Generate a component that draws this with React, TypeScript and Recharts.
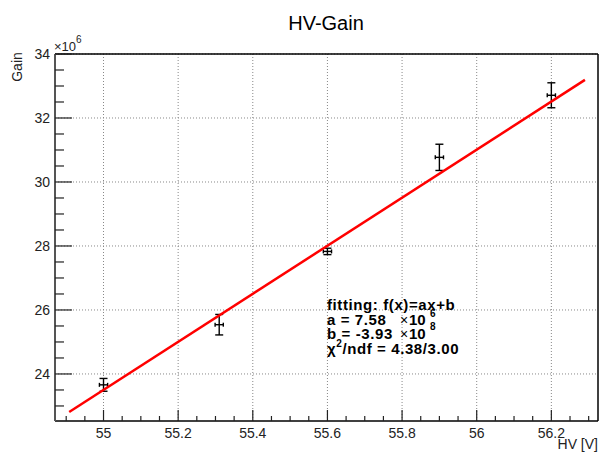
import { ComposedChart, Scatter, XAxis, YAxis, CartesianGrid, ErrorBar, ReferenceLine } from "recharts";

// measured points (gain in units of 1e6)
const hv = [55.0, 55.31, 55.6, 55.9, 56.2];
const hvErr = [0.011, 0.011, 0.011, 0.011, 0.011];
const gain = [23.66, 25.54, 27.83, 30.77, 32.71];
const gainErr = [0.2, 0.32, 0.1, 0.41, 0.39];

// fitted line end points
const fitHv = [54.908, 56.29];
const fitGain = [22.81, 33.19];

const xMajor = [55, 55.2, 55.4, 55.6, 55.8, 56, 56.2];
const xLabels = ["55", "55.2", "55.4", "55.6", "55.8", "56", "56.2"];
const yMajor = [24, 26, 28, 30, 32, 34];
const yLabels = ["24", "26", "28", "30", "32", "34"];

const X_DOMAIN: [number, number] = [54.87, 56.325];
const Y_DOMAIN: [number, number] = [22.53, 34];

// minor ticks every 0.05 V / 0.5e6
const xTicks = Array.from({ length: 29 }, (_, i) => +(54.9 + i * 0.05).toFixed(2));
const yTicks = Array.from({ length: 23 }, (_, i) => 23 + i * 0.5);

const points = hv.map((x, i) => ({ x, y: gain[i], ex: hvErr[i], ey: gainErr[i] }));
const fitData = fitHv.map((x, i) => ({ x, y: fitGain[i] }));

const FONT = "'Liberation Sans', Arial, Helvetica, sans-serif";
const INK = "#222";

const findMajor = (arr: number[], v: number) => arr.findIndex((m) => Math.abs(m - v) < 1e-6);

const XTick = (props: any) => {
  const { x, y, payload } = props;
  const i = findMajor(xMajor, payload.value);
  const major = i >= 0;
  return (
    <g>
      <line x1={x} x2={x} y1={y} y2={y - (major ? 11 : 5)} stroke={INK} strokeWidth={1.2} />
      {major && (
        <text x={x} y={y + 17} textAnchor="middle" fontSize={14} fill={INK} fontFamily={FONT}>
          {xLabels[i]}
        </text>
      )}
    </g>
  );
};

const YTick = (props: any) => {
  const { x, y, payload } = props;
  const i = findMajor(yMajor, payload.value);
  const major = i >= 0;
  return (
    <g>
      <line x1={x} x2={x + (major ? 17 : 9)} y1={y} y2={y} stroke={INK} strokeWidth={1.2} />
      {major && (
        <text x={x - 5} y={y + 5} textAnchor="end" fontSize={14} fill={INK} fontFamily={FONT}>
          {yLabels[i]}
        </text>
      )}
    </g>
  );
};

const Empty = () => <g />;

export default function App() {
  return (
    <div style={{ position: "absolute", left: 0, top: 0, width: 600, height: 456, background: "#fff" }}>
      <ComposedChart
        width={600}
        height={456}
        margin={{ top: 54, right: 2, bottom: 0, left: 0 }}
        style={{ fontFamily: FONT }}
      >
        <CartesianGrid
          stroke="#888"
          strokeDasharray="1 2"
          horizontalValues={yMajor}
          verticalValues={xMajor}
        />
        <XAxis
          type="number"
          dataKey="x"
          domain={X_DOMAIN}
          allowDataOverflow
          ticks={xTicks}
          interval={0}
          height={35}
          tickSize={0}
          tickMargin={0}
          tickLine={false}
          tick={<XTick />}
          axisLine={{ stroke: "#000", strokeWidth: 1.5 }}
        />
        <YAxis
          type="number"
          dataKey="y"
          domain={Y_DOMAIN}
          allowDataOverflow
          ticks={yTicks}
          interval={0}
          width={55}
          tickSize={0}
          tickMargin={0}
          tickLine={false}
          tick={<YTick />}
          axisLine={{ stroke: "#555", strokeWidth: 2 }}
        />
        <ReferenceLine y={34} stroke="#000" strokeWidth={1.5} />
        <ReferenceLine x={X_DOMAIN[1]} stroke="#000" strokeWidth={1.5} />
        <Scatter
          data={fitData}
          dataKey="y"
          stroke="#ff0000"
          fill="#ff0000"
          line={{ stroke: "#ff0000", strokeWidth: 2.5 }}
          shape={<Empty />}
          isAnimationActive={false}
        />
        <Scatter data={points} dataKey="y" fill="#000" shape={<Empty />} isAnimationActive={false}>
          <ErrorBar dataKey="ey" direction="y" width={4} stroke="#000" strokeWidth={1.4} />
          <ErrorBar dataKey="ex" direction="x" width={2} stroke="#000" strokeWidth={1.4} />
        </Scatter>
      </ComposedChart>

      <svg
        width={600}
        height={456}
        style={{ position: "absolute", left: 0, top: 0, pointerEvents: "none" }}
        fontFamily={FONT}
      >
        <text x={326} y={30} textAnchor="middle" fontSize={20} fill="#000">
          HV-Gain
        </text>
        <text x={22} y={67} textAnchor="middle" fontSize={14} fill={INK} transform="rotate(-90 22 67)">
          Gain
        </text>
        <text x={54} y={51} fontSize={13} fill={INK}>
          ×10
          <tspan fontSize={10} dy={-8}>6</tspan>
        </text>
        <text x={598} y={449} textAnchor="end" fontSize={14} fill={INK}>
          HV [V]
        </text>

        <g fontSize={15} fontWeight="bold" fill="#000">
          <text x={327} y={310} letterSpacing={0.6}>fitting: f(x)=ax+b</text>
          <text x={327} y={324.5} letterSpacing={0.6}>a = 7.58</text>
          <text x={400} y={324.5} fontWeight="normal" fontSize={14}>×</text>
          <text x={409} y={324.5}>10</text>
          <text x={430} y={317} fontSize={10}>6</text>
          <text x={327} y={339} letterSpacing={0.6}>b = -3.93</text>
          <text x={400} y={339} fontWeight="normal" fontSize={14}>×</text>
          <text x={409} y={339}>10</text>
          <text x={430} y={330} fontSize={10}>8</text>
          <text x={327} y={353.5} letterSpacing={0.6}>
            χ
            <tspan fontSize={10} dy={-7}>2</tspan>
            <tspan dy={7}>/ndf = 4.38/3.00</tspan>
          </text>
        </g>
      </svg>
    </div>
  );
}
